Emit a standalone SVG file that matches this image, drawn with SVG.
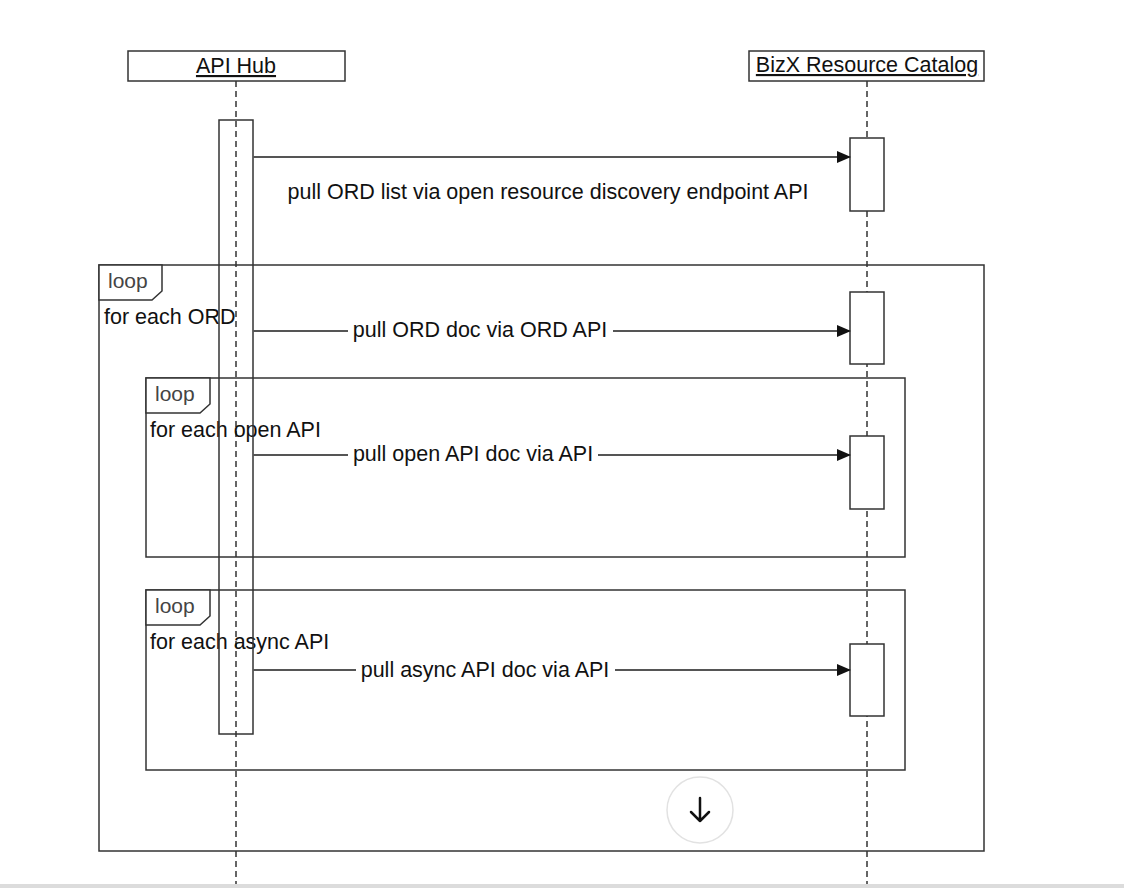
<svg xmlns="http://www.w3.org/2000/svg" width="1124" height="888" viewBox="0 0 1124 888">
<style>
text{font-family:"Liberation Sans",Arial,sans-serif;font-size:21.5px;fill:#111}
.box{fill:#fff;stroke:#333;stroke-width:1.5}
.life{stroke:#333;stroke-width:1.5;stroke-dasharray:6,4;fill:none}
.act{fill:#fff;stroke:#333;stroke-width:1.5}
.frame{fill:none;stroke:#333;stroke-width:1.5}
.tab{fill:#fff;stroke:#333;stroke-width:1.5}
.msg{stroke:#555;stroke-width:2;fill:none}
.loop{font-size:21px;fill:#444}
</style>
<defs>
<marker id="ah" markerWidth="14" markerHeight="12" refX="13" refY="6" orient="auto" markerUnits="userSpaceOnUse">
<path d="M0,0 L14,6 L0,12 Z" fill="#111"/>
</marker>
</defs>
<rect width="1124" height="888" fill="#fff"/>

<g id="lifelines">
<line class="life" x1="236" y1="81" x2="236" y2="884"/>
<line class="life" x1="867" y1="81" x2="867" y2="884"/>
</g>

<g id="node-apihub">
<rect class="box" x="128" y="51" width="217" height="30"/>
<text x="236" y="73" text-anchor="middle" text-decoration="underline">API Hub</text>
</g>
<g id="node-bizx">
<rect class="box" x="749" y="51" width="235" height="30"/>
<text x="867" y="72" text-anchor="middle" text-decoration="underline">BizX Resource Catalog</text>
</g>

<g id="loop-outer">
<rect class="frame" x="99" y="265" width="885" height="586"/>
<path class="tab" d="M99,265 H162 V291 L152,300 H99 Z"/>
<text class="loop" x="108" y="288">loop</text>
<text x="104" y="324">for each ORD</text>
</g>
<g id="loop-open">
<rect class="frame" x="146" y="378" width="759" height="179"/>
<path class="tab" d="M146,378 H210 V404 L200,413 H146 Z"/>
<text class="loop" x="155" y="401">loop</text>
<text x="150" y="437">for each open API</text>
</g>
<g id="loop-async">
<rect class="frame" x="146" y="590" width="759" height="180"/>
<path class="tab" d="M146,590 H210 V616 L200,625 H146 Z"/>
<text class="loop" x="155" y="613">loop</text>
<text x="150" y="649">for each async API</text>
</g>

<g id="activation-apihub">
<rect class="act" x="219" y="120" width="34" height="614" style="fill:none"/>
</g>
<g id="activations-bizx">
<rect class="act" x="850" y="138" width="34" height="73"/>
<rect class="act" x="850" y="292" width="34" height="72"/>
<rect class="act" x="850" y="436" width="34" height="73"/>
<rect class="act" x="850" y="644" width="34" height="72"/>
</g>

<g id="connectors">
<line class="msg" x1="253" y1="157" x2="850" y2="157" marker-end="url(#ah)"/>
<text x="548" y="199" text-anchor="middle">pull ORD list via open resource discovery endpoint API</text>

<line class="msg" x1="253" y1="331" x2="348" y2="331"/>
<line class="msg" x1="613" y1="331" x2="850" y2="331" marker-end="url(#ah)"/>
<text x="480" y="337" text-anchor="middle">pull ORD doc via ORD API</text>

<line class="msg" x1="253" y1="455" x2="348" y2="455"/>
<line class="msg" x1="598" y1="455" x2="850" y2="455" marker-end="url(#ah)"/>
<text x="473" y="461" text-anchor="middle">pull open API doc via API</text>

<line class="msg" x1="253" y1="670" x2="356" y2="670"/>
<line class="msg" x1="615" y1="670" x2="850" y2="670" marker-end="url(#ah)"/>
<text x="485" y="677" text-anchor="middle">pull async API doc via API</text>
</g>

<g id="scroll-button">
<circle cx="700" cy="810" r="33" fill="#fff" stroke="#e2e2e2" stroke-width="1.5"/>
<path d="M700,798 V821 M691,812 L700,821 L709,812" fill="none" stroke="#111" stroke-width="2.5" stroke-linecap="round" stroke-linejoin="round"/>
</g>
<rect x="0" y="884" width="1124" height="4" fill="#dcdcdc"/>
</svg>
